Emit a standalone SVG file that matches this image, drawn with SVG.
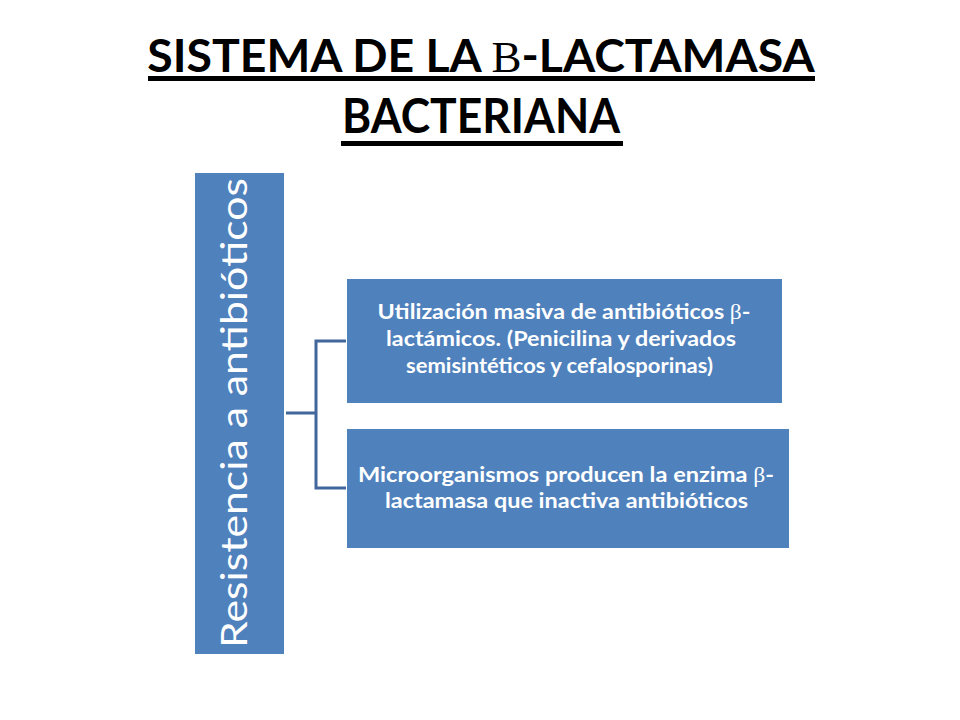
<svg xmlns="http://www.w3.org/2000/svg" width="960" height="720" viewBox="0 0 960 720">
<style>
.title{font-family:Lato,"Liberation Sans",sans-serif;font-weight:700;font-size:47px;fill:#000}
.serifB{font-family:"Liberation Serif","DejaVu Serif",serif;font-weight:400;font-size:45px}
.box{fill:#4F81BD}
.lbl{font-family:Lato,"Liberation Sans",sans-serif;font-weight:700;font-size:20px;fill:#fff}
.beta{font-family:"Liberation Serif","DejaVu Serif",serif;font-weight:400}
.vert{font-family:Lato,"Liberation Sans",sans-serif;font-weight:400;font-size:36px;fill:#fff}
.conn{fill:none;stroke:#41679C;stroke-width:3}
</style>
<rect width="960" height="720" fill="#fff"/>
<g id="title">
<text class="title" x="481" y="72" text-anchor="middle" style="font-size:46.4px">SISTEMA DE LA <tspan class="serifB">B</tspan>-LACTAMASA</text>
<rect x="148" y="76" width="667" height="5" fill="#000"/>
<text class="title" x="342" y="133" textLength="278" lengthAdjust="spacingAndGlyphs">BACTERIANA</text>
<rect x="341" y="141" width="282" height="5" fill="#000"/>
</g>
<g id="connectors">
<path class="conn" d="M286,413 H316 M316,341 V488 M314.5,341 H346 M314.5,488 H346"/>
</g>
<g id="node-root">
<rect class="box" x="195" y="173" width="89" height="481"/>
<text class="vert" transform="translate(247,413) rotate(-90)" x="0" y="0" text-anchor="middle" textLength="470" lengthAdjust="spacingAndGlyphs">Resistencia a antibióticos</text>
</g>
<g id="node-1">
<rect class="box" x="347" y="279" width="435" height="124"/>
<text class="lbl" x="564" y="319" text-anchor="middle" textLength="373" lengthAdjust="spacingAndGlyphs">Utilización masiva de antibióticos <tspan class="beta">β</tspan>-</text>
<text class="lbl" x="561" y="346" text-anchor="middle" textLength="350" lengthAdjust="spacingAndGlyphs">lactámicos. (Penicilina y derivados</text>
<text class="lbl" x="559.5" y="373" text-anchor="middle" textLength="307" lengthAdjust="spacingAndGlyphs">semisintéticos y cefalosporinas)</text>
</g>
<g id="node-2">
<rect class="box" x="347" y="429" width="442" height="119"/>
<text class="lbl" x="566" y="482" text-anchor="middle" textLength="416" lengthAdjust="spacingAndGlyphs">Microorganismos producen la enzima <tspan class="beta">β</tspan>-</text>
<text class="lbl" x="566.5" y="508" text-anchor="middle" textLength="363" lengthAdjust="spacingAndGlyphs">lactamasa que inactiva antibióticos</text>
</g>
</svg>
